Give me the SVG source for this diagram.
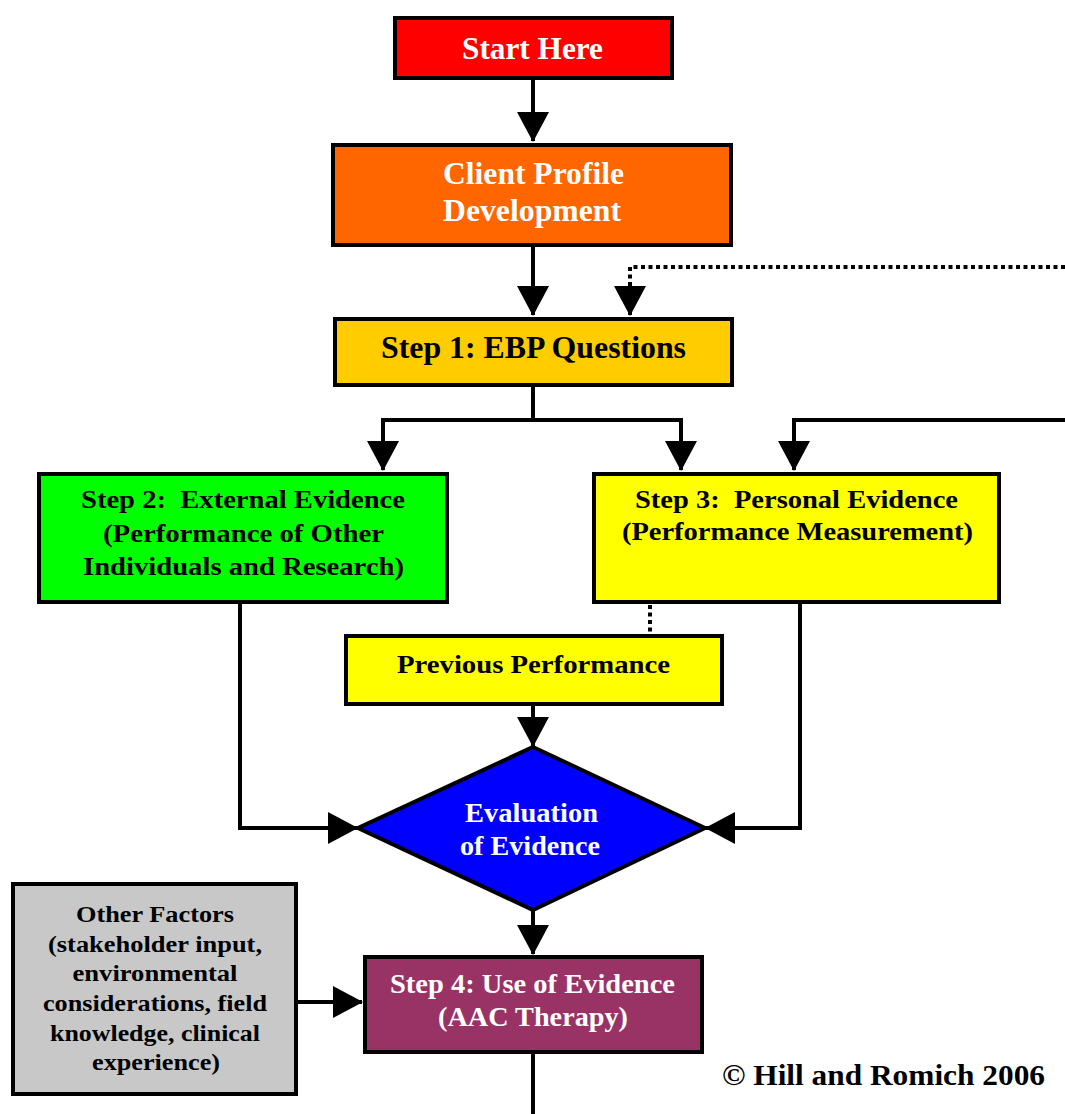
<svg xmlns="http://www.w3.org/2000/svg" width="1065" height="1114" viewBox="0 0 1065 1114">
<style>
.box{stroke:#000;stroke-width:4}
.t{font-family:"Liberation Serif","Times New Roman",serif;font-weight:bold;text-anchor:middle}
.w{fill:#fff}
.k{fill:#000}
.c{fill:none;stroke:#000;stroke-width:4}
.d{fill:none;stroke:#000;stroke-width:4;stroke-dasharray:4 3.5}
</style>
<defs>
<marker id="ah" markerUnits="userSpaceOnUse" markerWidth="31" markerHeight="32" viewBox="0 0 30 32" refX="29" refY="16" orient="auto">
<path d="M0,0 L30,16 L0,32 z" fill="#000"/>
</marker>
</defs>
<rect width="1065" height="1114" fill="#fff"/>
<g id="connectors">
<path class="c" d="M533,79 V141" marker-end="url(#ah)"/>
<path class="c" d="M533,246 V315" marker-end="url(#ah)"/>
<path class="d" d="M1065,267 H630 V290"/>
<path class="c" d="M630,284 V315" marker-end="url(#ah)"/>
<path class="c" d="M533,386 V420 H383 V470" marker-end="url(#ah)"/>
<path class="c" d="M533,420 H681 V470" marker-end="url(#ah)"/>
<path class="c" d="M1065,420 H794 V470" marker-end="url(#ah)"/>
<path class="d" d="M650,605 V634"/>
<path class="c" d="M533,705 V746" marker-end="url(#ah)"/>
<path class="c" d="M240,603 V828 H357" marker-end="url(#ah)"/>
<path class="c" d="M800,603 V828 H706" marker-end="url(#ah)"/>
<path class="c" d="M533,910 V954" marker-end="url(#ah)"/>
<path class="c" d="M297,1002 H362" marker-end="url(#ah)"/>
<path class="c" d="M533,1053 V1114"/>
</g>
<g id="start">
<rect class="box" x="395" y="18" width="277" height="60" fill="#ff0000"/>
<text class="t w" x="532.5" y="59" font-size="31" textLength="141" lengthAdjust="spacingAndGlyphs">Start Here</text>
</g>
<g id="client">
<rect class="box" x="333" y="145" width="398" height="100" fill="#ff6600"/>
<text class="t w" x="533.5" y="184" font-size="31" textLength="181" lengthAdjust="spacingAndGlyphs">Client Profile</text>
<text class="t w" x="532" y="221" font-size="31" textLength="178" lengthAdjust="spacingAndGlyphs">Development</text>
</g>
<g id="step1">
<rect class="box" x="335" y="319" width="397" height="66" fill="#ffcc00"/>
<text class="t k" x="533.5" y="358" font-size="31" textLength="305" lengthAdjust="spacingAndGlyphs">Step 1: EBP Questions</text>
</g>
<g id="step2">
<rect class="box" x="39" y="474" width="408" height="128" fill="#00ff00"/>
<text class="t k" x="243" y="508" font-size="26" textLength="324" lengthAdjust="spacingAndGlyphs">Step 2:&#160; External Evidence</text>
<text class="t k" x="243.5" y="542" font-size="26" textLength="281" lengthAdjust="spacingAndGlyphs">(Performance of Other</text>
<text class="t k" x="243.5" y="575" font-size="26" textLength="321" lengthAdjust="spacingAndGlyphs">Individuals and Research)</text>
</g>
<g id="step3">
<rect class="box" x="594" y="474" width="405" height="128" fill="#ffff00"/>
<text class="t k" x="796.5" y="508" font-size="26" textLength="323" lengthAdjust="spacingAndGlyphs">Step 3:&#160; Personal Evidence</text>
<text class="t k" x="797.5" y="540" font-size="26" textLength="351" lengthAdjust="spacingAndGlyphs">(Performance Measurement)</text>
</g>
<g id="previous">
<rect class="box" x="346" y="636" width="376" height="68" fill="#ffff00"/>
<text class="t k" x="533.5" y="673" font-size="26" textLength="273" lengthAdjust="spacingAndGlyphs">Previous Performance</text>
</g>
<g id="evaluation">
<polygon class="box" points="533,747 705,828 533,910 358,828" fill="#0000ff"/>
<text class="t w" x="531.5" y="822" font-size="27" textLength="133" lengthAdjust="spacingAndGlyphs">Evaluation</text>
<text class="t w" x="530" y="855" font-size="27" textLength="140" lengthAdjust="spacingAndGlyphs">of Evidence</text>
</g>
<g id="step4">
<rect class="box" x="365" y="957" width="337" height="95" fill="#993366"/>
<text class="t w" x="532.5" y="993" font-size="27" textLength="285" lengthAdjust="spacingAndGlyphs">Step 4: Use of Evidence</text>
<text class="t w" x="533" y="1026" font-size="27" textLength="190" lengthAdjust="spacingAndGlyphs">(AAC Therapy)</text>
</g>
<g id="other">
<rect class="box" x="13" y="884" width="283" height="210" fill="#c8c8c8"/>
<text class="t k" x="155" y="922" font-size="23" textLength="158" lengthAdjust="spacingAndGlyphs">Other Factors</text>
<text class="t k" x="155" y="952" font-size="23" textLength="214" lengthAdjust="spacingAndGlyphs">(stakeholder input,</text>
<text class="t k" x="155" y="981" font-size="23" textLength="165" lengthAdjust="spacingAndGlyphs">environmental</text>
<text class="t k" x="155" y="1011" font-size="23" textLength="224" lengthAdjust="spacingAndGlyphs">considerations, field</text>
<text class="t k" x="155" y="1041" font-size="23" textLength="210" lengthAdjust="spacingAndGlyphs">knowledge, clinical</text>
<text class="t k" x="156" y="1070" font-size="23" textLength="128" lengthAdjust="spacingAndGlyphs">experience)</text>
</g>
<g id="copyright">
<text class="t k" x="722" y="1085" font-size="29" style="text-anchor:start" textLength="323" lengthAdjust="spacingAndGlyphs">© Hill and Romich 2006</text>
</g>
</svg>
